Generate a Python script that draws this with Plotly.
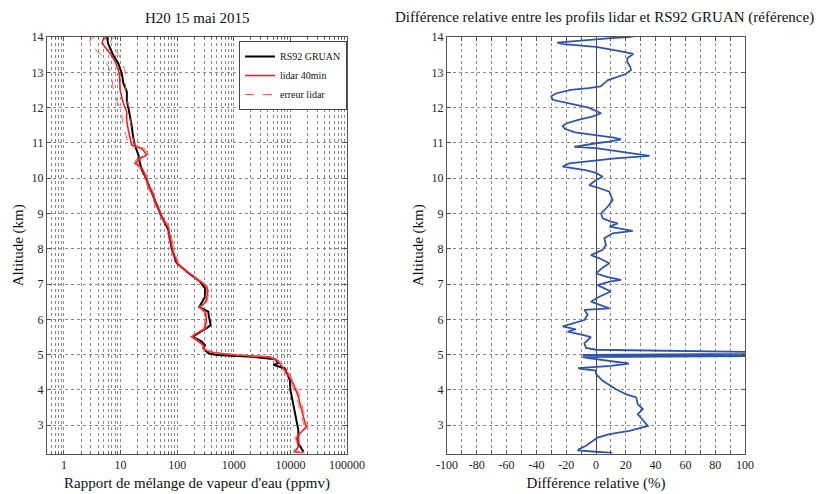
import plotly.graph_objects as go

# ---------------- data ----------------
rs92_alt = [14.05, 13.82, 13.49, 13.25, 12.97, 12.69, 12.45, 12.2, 11.98, 11.74, 11.46, 11.18,
            10.94, 10.66, 10.42, 10.23, 10.0, 9.48, 9.0, 8.53, 8.0, 7.59, 7.35, 7.07, 6.88, 6.64,
            6.46, 6.35, 6.22, 6.12, 5.84, 5.75, 5.51, 5.37, 5.27, 5.18, 5.04, 4.99, 4.94, 4.87,
            4.76, 4.71, 4.61, 4.28, 4.0, 3.53, 3.15, 2.87, 2.49, 2.35, 2.25]
rs92_ppmv = [5.7, 6.0, 7.4, 9.1, 10.5, 11.2, 12.9, 12.9, 13.8, 14.8, 15.8, 16.6,
             17.8, 20.6, 22, 24, 28, 38, 50, 70, 80, 98, 148, 253, 310, 310,
             271, 245, 355, 360, 390, 331, 187, 271, 310, 290, 355, 500, 2200, 5350,
             6100, 5000, 8000, 9800, 10000, 11500, 12900, 13800, 13800, 15800, 17000]

lidar_alt = [14.02, 13.93, 13.82, 13.68, 13.5, 13.3, 13.1, 12.9, 12.78, 12.5, 12.3, 12.12,
             11.88, 11.64, 11.36, 11.12, 10.94, 10.85, 10.66, 10.56, 10.42, 10.33, 10.23, 10.0,
             9.48, 9.0, 8.6, 8.0, 7.59, 7.35, 7.07, 6.93, 6.8, 6.5, 6.35, 6.2, 5.98, 5.75,
             5.51, 5.27, 5.13, 5.06, 4.99, 4.93, 4.85, 4.57, 4.19, 3.81, 3.43, 2.96, 2.77,
             2.63, 2.39, 2.25, 2.22]
lidar_ppmv = [6.0, 4.9, 4.7, 5.6, 6.8, 8.0, 9.0, 9.6, 9.6, 9.8, 10.5, 11.2,
              12.8, 12.8, 13.7, 14.7, 15.7, 23.6, 29, 22, 18, 22, 25, 28,
              38, 50, 69, 82, 100, 150, 260, 331, 350, 320, 255, 310, 330, 310,
              181, 290, 310, 435, 1120, 4370, 5700, 8000, 11200, 13800, 15800, 19000, 14800,
              12900, 13800, 12000, 16500]
lidar_err_pct = [40, 40, 40, 38, 35, 32, 30, 28, 26, 24, 22, 20,
                 18, 16, 14, 13, 12, 11, 10, 10, 9, 9, 8, 7,
                 6, 6, 6, 6, 6, 5, 5, 5, 5, 5, 5, 5, 5, 5,
                 5, 5, 5, 5, 5, 6, 6, 7, 7, 7, 7, 7, 7,
                 7, 7, 7, 7]

diff_alt = [14.05, 14.0, 13.97, 13.9, 13.84, 13.8, 13.72, 13.6, 13.52, 13.4, 13.3, 13.15,
            13.07, 12.95, 12.88, 12.78, 12.73, 12.6, 12.55, 12.5, 12.4, 12.32, 12.22, 12.1,
            12.0, 11.84, 11.75, 11.65, 11.55, 11.48, 11.4, 11.3, 11.22, 11.15, 11.1, 11.04,
            10.99, 10.92, 10.89, 10.85, 10.75, 10.63, 10.56, 10.5, 10.42, 10.33, 10.23, 10.15,
            10.04, 9.95, 9.8, 9.75, 9.62, 9.5, 9.38, 9.19, 9.0, 8.86, 8.77, 8.72, 8.63, 8.51,
            8.44, 8.3, 8.1, 7.97, 7.82, 7.73, 7.59, 7.45, 7.3, 7.2, 7.12, 7.07, 6.97, 6.79,
            6.64, 6.5, 6.41, 6.31, 6.27, 6.13, 5.98, 5.89, 5.8, 5.72, 5.65, 5.56, 5.5, 5.32,
            5.19, 5.14, 5.08, 5.06, 5.03, 4.99, 4.96, 4.95, 4.93, 4.9, 4.85, 4.75, 4.68, 4.62,
            4.6, 4.55, 4.45, 4.26, 4.02, 3.88, 3.79, 3.6, 3.46, 3.31, 3.17, 2.98, 2.84, 2.75,
            2.65, 2.56, 2.42, 2.33, 2.29, 2.25, 2.22]
diff_pct = [30, 22, 10, -8, -26, -22, 0, 16, 25, 21, 21, 23,
            23.5, 20, 15, 8, 6.7, 3, -5, -17, -27, -30, -29, -17,
            -5, 3.4, -2, -12, -20, -22.4, -21, -14, 0, 12, 16.8, 10,
            0, -10, -14.6, 0, 16, 36, 13, -2, -18, -22.4, -7, 0,
            4.5, 0, -4.5, 0, 9, 10, 11.2, 7.8, 3.4, 4.5, 10, 14.6, 9, 24.7,
            11.2, 5.6, 6.7, 4.5, -3.4, 2.2, 9, 4, 0, 8, 16.8, 9, 1.1, 10,
            2.2, -3.4, 2.2, 9, -7.8, -5.6, -7.8, -15.7, -22.4, -13.5, -19, -9, -3.4, -7.8,
            -6.7, 0, 85, 130, 120, -9, 110, 45, -9, -5, 5, 22, 10, -12,
            -10, 0, 0, 4.5, 13.5, 20, 27, 28, 31.4, 28, 31, 34.8, 22.4, 9,
            1.1, -2.2, -6.7, -11.2, -12.3, 0, 11]

left_title = "H20 15 mai 2015"
right_title = "Différence relative entre les profils lidar et RS92 GRUAN (référence)"
log_tick_vals = [1, 10, 100, 1000, 10000, 100000]
log_tick_text = ["1", "10", "100", "1000", "10000", "100000"]
alt_ticks = list(range(3, 15))
diff_ticks = list(range(-100, 101, 20))
diff_tick_text = [str(v) for v in diff_ticks]

# ---------------- figure ----------------
W, H = 834, 494
OFF = 8  # page body margin shifts the figure
SERIF = "Liberation Serif"
GRID = "#8a8a8a"
AXC = "#555555"


def px_x(p):
    return (p - OFF) / W


def px_y(p):
    return 1 - (p - OFF) / H


fig = go.Figure()

fig.add_trace(go.Scatter(x=rs92_ppmv, y=rs92_alt, mode="lines", name="RS92 GRUAN",
                         line=dict(color="black", width=2), xaxis="x", yaxis="y"))
fig.add_trace(go.Scatter(x=lidar_ppmv, y=lidar_alt, mode="lines", name="lidar 40min",
                         line=dict(color="#ff1a1a", width=1.6), xaxis="x", yaxis="y"))
upper = [v * (1 + e / 100) for v, e in zip(lidar_ppmv, lidar_err_pct)]
lower = [v * (1 - e / 100) for v, e in zip(lidar_ppmv, lidar_err_pct)]
fig.add_trace(go.Scatter(x=upper, y=lidar_alt, mode="lines", name="erreur lidar",
                         line=dict(color="#ff5050", width=0.9, dash="dash"), xaxis="x", yaxis="y"))
fig.add_trace(go.Scatter(x=lower, y=lidar_alt, mode="lines", name="erreur lidar", showlegend=False,
                         line=dict(color="#ff5050", width=0.9, dash="dash"), xaxis="x", yaxis="y"))

fig.add_trace(go.Scatter(x=diff_pct, y=diff_alt, mode="lines", showlegend=False,
                         line=dict(color="#2f55aa", width=1.8), xaxis="x2", yaxis="y2"))

minor_log = [m * 10 ** d for d in range(-1, 5) for m in range(2, 10) if 0.5 <= m * 10 ** d <= 100000]

common_axis = dict(showline=True, linecolor=AXC, linewidth=1, mirror="allticks",
                   ticks="inside", ticklen=4, tickcolor=AXC,
                   showgrid=True, gridcolor=GRID, griddash="dot", gridwidth=1,
                   tickfont=dict(family=SERIF, size=12, color="#222"),
                   automargin=False, zeroline=False)

fig.update_layout(
    width=W, height=H,
    margin=dict(l=0, r=0, t=0, b=0),
    paper_bgcolor="white", plot_bgcolor="white",
    showlegend=True,
    legend=dict(x=px_x(347), y=px_y(41), xanchor="right", yanchor="top",
                bgcolor="white", bordercolor="#444", borderwidth=1,
                font=dict(family=SERIF, size=10, color="#111"),
                tracegroupgap=0, itemwidth=30),
    xaxis=dict(common_axis, type="log", domain=[px_x(47), px_x(347)],
               range=[-0.3, 5], tickvals=log_tick_vals, ticktext=log_tick_text,
               minor=dict(tickvals=minor_log, showgrid=True, gridcolor=GRID,
                          griddash="dot", ticks="inside", ticklen=2, tickcolor=AXC),
               title=dict(text="Rapport de mélange de vapeur d'eau (ppmv)",
                          font=dict(family=SERIF, size=15, color="#111"), standoff=6),
               anchor="y"),
    yaxis=dict(common_axis, domain=[px_y(453.5), px_y(37)], range=[2.2, 14],
               tickvals=alt_ticks,
               title=dict(text="Altitude (km)", font=dict(family=SERIF, size=15, color="#111"),
                          standoff=4),
               anchor="x"),
    xaxis2=dict(common_axis, domain=[px_x(447), px_x(745)], range=[-100, 100],
                tickvals=diff_ticks, ticktext=diff_tick_text,
                minor=dict(dtick=10, showgrid=True, gridcolor=GRID, griddash="dot",
                           ticks="inside", ticklen=4, tickcolor=AXC),
                zeroline=True, zerolinecolor="#444", zerolinewidth=1,
                title=dict(text="Différence relative (%)",
                           font=dict(family=SERIF, size=15, color="#111"), standoff=6),
                anchor="y2"),
    yaxis2=dict(common_axis, domain=[px_y(453.5), px_y(37)], range=[2.2, 14],
                tickvals=alt_ticks,
                title=dict(text="Altitude (km)", font=dict(family=SERIF, size=15, color="#111"),
                           standoff=4),
                anchor="x2"),
    annotations=[
        dict(text=left_title, x=px_x(197), y=px_y(18), xref="paper", yref="paper",
             showarrow=False, font=dict(family=SERIF, size=15, color="#111"),
             xanchor="center", yanchor="middle"),
        dict(text=right_title, x=px_x(604), y=px_y(18), xref="paper", yref="paper",
             showarrow=False, font=dict(family=SERIF, size=15, color="#111"),
             xanchor="center", yanchor="middle"),
    ],
)

fig.write_html("out.html")
